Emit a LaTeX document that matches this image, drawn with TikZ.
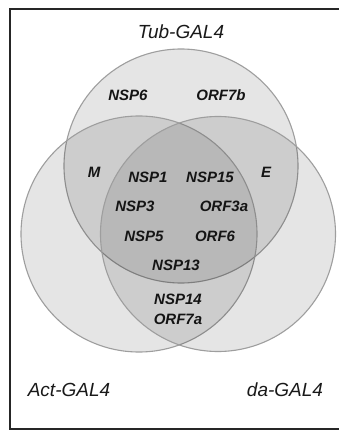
\documentclass[tikz,border=0pt]{standalone}
\usepackage{fontspec}
\setmainfont{Liberation Sans}
\begin{document}
\begin{tikzpicture}[x=1pt,y=-1pt,
  venn/.style={circle, draw=black!38, line width=1.1pt, fill=black, fill opacity=0.1, draw opacity=1, inner sep=0pt, minimum size=#1},
  gene/.style={font=\fontsize{15}{17}\selectfont\bfseries\itshape, text=black!92, inner sep=0pt},
  driver/.style={font=\fontsize{19}{22}\selectfont\itshape, text=black!90, inner sep=0pt},
  frame/.style={draw=black!85, line width=1.6pt}]
\useasboundingbox (0,0) rectangle (338,431);
\fill[white] (0,0) rectangle (338,431);
% frame
\draw[frame] (345,9) -- (10,9) -- (10,429) -- (345,429);
% circles
\node[venn=234pt] (tub) at (181,166) {};
\node[venn=236pt] (act) at (139,234) {};
\node[venn=235pt] (da) at (218,234) {};
% driver labels
\node[driver] (ltub) at (181,32) {Tub-GAL4};
\node[driver] (lact) at (69,390) {Act-GAL4};
\node[driver] (lda) at (285,390) {da-GAL4};
% genes
\node[gene] (nsp6) at (128,95) {NSP6};
\node[gene] (orf7b) at (221,95) {ORF7b};
\node[gene] (m) at (94,172) {M};
\node[gene] (e) at (266,172) {E};
\node[gene] (nsp1) at (148,177) {NSP1};
\node[gene] (nsp15) at (210,177) {NSP15};
\node[gene] (nsp3) at (135,206) {NSP3};
\node[gene] (orf3a) at (224,206) {ORF3a};
\node[gene] (nsp5) at (144,236) {NSP5};
\node[gene] (orf6) at (215,236) {ORF6};
\node[gene] (nsp13) at (176,265) {NSP13};
\node[gene] (nsp14) at (178,299) {NSP14};
\node[gene] (orf7a) at (178,319) {ORF7a};
\end{tikzpicture}
\end{document}
